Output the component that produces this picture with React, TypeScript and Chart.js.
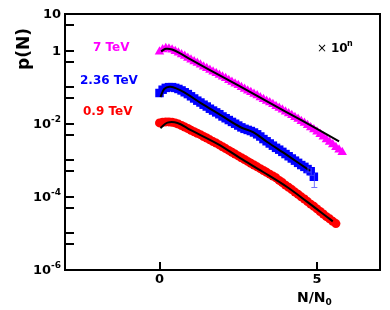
import { useEffect, useRef } from 'react';
import { Chart, registerables } from 'chart.js';

Chart.register(...registerables);

// N/N0 grid of the measured points
const nGrid = [
  0, 0.1, 0.2, 0.3, 0.4, 0.5, 0.6, 0.7, 0.8, 0.9,
  1.0, 1.1, 1.2, 1.3, 1.4, 1.5, 1.6, 1.7, 1.8, 1.9,
  2.0, 2.1, 2.2, 2.3, 2.4, 2.5, 2.6, 2.7, 2.8, 2.9,
  3.0, 3.1, 3.2, 3.3, 3.4, 3.5, 3.6, 3.7, 3.8, 3.9,
  4.0, 4.1, 4.2, 4.3, 4.4, 4.5, 4.6, 4.7, 4.8, 4.9,
  5.0, 5.1, 5.2, 5.3, 5.4, 5.5, 5.6, 5.7, 5.8,
];

// 7 TeV (magenta triangles)
const p7TeV = [
  0.93, 1.07, 1.15, 1.12, 1.05, 0.955, 0.871, 0.776, 0.708, 0.631,
  0.562, 0.501, 0.457, 0.407, 0.363, 0.331, 0.295, 0.263, 0.240, 0.214,
  0.191, 0.174, 0.155, 0.138, 0.123, 0.112, 0.100, 0.0891, 0.0794, 0.0724,
  0.0646, 0.0589, 0.0525, 0.0468, 0.0417, 0.0380, 0.0339, 0.0302, 0.0269, 0.0240,
  0.0214, 0.0191, 0.0170, 0.0151, 0.0135, 0.0117, 0.0105, 0.00912, 0.00794, 0.00692,
  0.00603, 0.00513, 0.00437, 0.00372, 0.00316, 0.00269, 0.00229, 0.00195, 0.00166,
];

// 2.36 TeV (blue squares)
const p236TeV = [
  0.0692, 0.0851, 0.0955, 0.100, 0.100, 0.0955, 0.0891, 0.0813, 0.0724, 0.0646,
  0.0562, 0.0490, 0.0427, 0.0380, 0.0331, 0.0295, 0.0257, 0.0229, 0.0204, 0.0182,
  0.0158, 0.0141, 0.0126, 0.0112, 0.0100, 0.00891, 0.00794, 0.00724, 0.00676, 0.00631,
  0.00575, 0.00513, 0.00447, 0.00380, 0.00331, 0.00288, 0.00251, 0.00219, 0.00195, 0.00170,
  0.00148, 0.00129, 0.00112, 0.000977, 0.000851, 0.000741, 0.000661, 0.000575, 0.000501, 0.000355,
];

// 0.9 TeV (red circles)
const p09TeV = [
  0.0105, 0.0110, 0.0112, 0.0112, 0.0110, 0.0105, 0.00977, 0.00891, 0.00813, 0.00741,
  0.00661, 0.00603, 0.00550, 0.00501, 0.00447, 0.00407, 0.00363, 0.00324, 0.00295, 0.00263,
  0.00234, 0.00209, 0.00186, 0.00166, 0.00148, 0.00132, 0.00117, 0.00105, 0.000933, 0.000832,
  0.000741, 0.000661, 0.000589, 0.000525, 0.000468, 0.000417, 0.000372, 0.000331, 0.000282, 0.000245,
  0.000209, 0.000182, 0.000158, 0.000135, 0.000117, 0.000100, 0.0000871, 0.0000741, 0.0000631, 0.0000550,
  0.0000468, 0.0000398, 0.0000339, 0.0000288, 0.0000251, 0.0000214, 0.0000186,
];

// error bars on the last 2.36 TeV points
const blueErrN = [4.7, 4.8, 4.9];
const blueErrLow = [0.00049, 0.00040, 0.000186];
const blueErrHigh = [0.00067, 0.00062, 0.00045];

// black fit curves
const fit7N = [0.05, 0.2, 0.4, 0.7, 1.0, 2.0, 3.0, 4.0, 5.0, 5.7];
const fit7P = [0.955, 1.12, 1.07, 0.794, 0.562, 0.191, 0.0646, 0.0214, 0.00724, 0.00331];
const fit236N = [0.03, 0.15, 0.35, 0.76, 1.3, 1.93, 2.56, 2.97, 3.42, 4.05, 4.78];
const fit236P = [0.0537, 0.0891, 0.102, 0.0741, 0.0372, 0.0174, 0.00813, 0.00589, 0.00316, 0.00138, 0.000513];
const fit09N = [0.03, 0.25, 0.57, 0.98, 1.84, 2.56, 3.29, 4.05, 4.68, 5.32, 5.5];
const fit09P = [0.00759, 0.0107, 0.0105, 0.00676, 0.00282, 0.00115, 0.000479, 0.000186, 0.0000741, 0.0000282, 0.0000214];

const seriesLabels = ['7 TeV', '2.36 TeV', '0.9 TeV'];
const seriesColors = ['#ff00ff', '#0000ff', '#ff0000'];

const yTickValues = [10, 5, 1, 0.5, 0.1, 0.05, 0.01, 0.005, 0.001, 0.0005, 0.0001, 0.00005, 0.00001, 0.000005, 0.000001];
const yLabelValues = [10, 1, 0.01, 0.0001, 0.000001];
const yLabelBase = ['10', '1', '10', '10', '10'];
const yLabelExp = ['', '', '-2', '-4', '-6'];
const xTickValues = [0, 5];
const xTickLabels = ['0', '5'];

const FONT = '"DejaVu Sans", "Liberation Sans", Arial, sans-serif';

const pts = (xs: number[], ys: number[]) => ys.map((v, i) => ({ x: xs[i], y: v }));

const overlay = {
  id: 'overlay',
  afterDatasetsDraw(chart: any) {
    const { ctx, scales } = chart;
    const x = scales.x;
    const y = scales.y;
    ctx.save();
    ctx.strokeStyle = 'rgba(80,80,255,0.8)';
    ctx.lineWidth = 1;
    blueErrN.forEach((n, i) => {
      const px = x.getPixelForValue(n);
      const lo = y.getPixelForValue(blueErrLow[i]);
      const hi = y.getPixelForValue(blueErrHigh[i]);
      ctx.beginPath();
      ctx.moveTo(px + 0.5, lo);
      ctx.lineTo(px + 0.5, hi);
      ctx.moveTo(px - 2.5, lo + 0.5);
      ctx.lineTo(px + 3.5, lo + 0.5);
      ctx.stroke();
    });
    ctx.restore();
  },
  afterDraw(chart: any) {
    const { ctx, chartArea: a, scales } = chart;
    const x = scales.x;
    const y = scales.y;
    ctx.save();
    // frame
    ctx.strokeStyle = '#000';
    ctx.lineWidth = 2;
    ctx.strokeRect(a.left, a.top, a.right - a.left, a.bottom - a.top);
    // y ticks (inside)
    ctx.beginPath();
    yTickValues.forEach((v) => {
      const py = Math.round(y.getPixelForValue(v));
      ctx.moveTo(a.left, py);
      ctx.lineTo(a.left + 9, py);
    });
    // x ticks (inside)
    xTickValues.forEach((v) => {
      const px = Math.round(x.getPixelForValue(v));
      ctx.moveTo(px, a.bottom);
      ctx.lineTo(px, a.bottom - 8);
    });
    ctx.stroke();

    ctx.fillStyle = '#000';
    // y labels
    const rightX = a.left - 4;
    yLabelValues.forEach((v, i) => {
      const py = y.getPixelForValue(v) + 1;
      ctx.font = `bold 9px ${FONT}`;
      const ew = yLabelExp[i] ? ctx.measureText(yLabelExp[i]).width : 0;
      if (yLabelExp[i]) {
        ctx.textAlign = 'left';
        ctx.textBaseline = 'middle';
        ctx.fillText(yLabelExp[i], rightX - ew, py - 5);
      }
      ctx.font = `bold 13px ${FONT}`;
      ctx.textAlign = 'right';
      ctx.textBaseline = 'middle';
      ctx.fillText(yLabelBase[i], rightX - ew, py);
    });
    // x labels
    ctx.font = `bold 13px ${FONT}`;
    ctx.textAlign = 'center';
    ctx.textBaseline = 'middle';
    xTickValues.forEach((v, i) => {
      ctx.fillText(xTickLabels[i], x.getPixelForValue(v), a.bottom + 10);
    });
    // x title N/N0
    ctx.font = `bold 14px ${FONT}`;
    ctx.textAlign = 'left';
    ctx.textBaseline = 'alphabetic';
    const tx = 297;
    ctx.fillText('N/N', tx, 302);
    const tw = ctx.measureText('N/N').width;
    ctx.font = `bold 9px ${FONT}`;
    ctx.fillText('0', tx + tw, 305);
    // y title p(N)
    ctx.save();
    ctx.translate(25, 49);
    ctx.rotate(-Math.PI / 2);
    ctx.font = `bold 17px ${FONT}`;
    ctx.textAlign = 'center';
    ctx.textBaseline = 'middle';
    ctx.fillText('p(N)', 0, 0);
    ctx.restore();
    // series labels
    const labelPos = [
      [93, 48],
      [80, 81],
      [83, 112],
    ];
    ctx.font = `bold 12px ${FONT}`;
    ctx.textAlign = 'left';
    ctx.textBaseline = 'middle';
    seriesLabels.forEach((s, i) => {
      ctx.fillStyle = seriesColors[i];
      ctx.fillText(s, labelPos[i][0], labelPos[i][1]);
    });
    // x 10^n
    ctx.fillStyle = '#000';
    ctx.font = `12px ${FONT}`;
    ctx.fillText('\u00d7', 317, 49);
    ctx.font = `bold 12px ${FONT}`;
    ctx.fillText('10', 331, 49);
    ctx.font = `bold 8px ${FONT}`;
    ctx.fillText('n', 347, 44);
    ctx.restore();
  },
};

export default function App() {
  const ref = useRef<HTMLCanvasElement | null>(null);
  useEffect(() => {
    if (!ref.current) return;
    const fitStyle = {
      borderColor: '#000',
      borderWidth: 2,
      pointRadius: 0,
      showLine: true,
      tension: 0.35,
      fill: false,
      order: 0,
    };
    const chart = new Chart(ref.current, {
      type: 'scatter',
      data: {
        datasets: [
          { ...fitStyle, label: 'fit 7', data: pts(fit7N, fit7P) },
          { ...fitStyle, label: 'fit 2.36', data: pts(fit236N, fit236P) },
          { ...fitStyle, label: 'fit 0.9', data: pts(fit09N, fit09P) },
          {
            label: seriesLabels[0],
            data: pts(nGrid, p7TeV),
            pointStyle: 'triangle',
            pointRadius: 5.5,
            backgroundColor: seriesColors[0],
            borderColor: seriesColors[0],
            borderWidth: 0,
            order: 1,
          },
          {
            label: seriesLabels[1],
            data: pts(nGrid, p236TeV),
            pointStyle: 'rect',
            pointRadius: 6,
            backgroundColor: seriesColors[1],
            borderColor: seriesColors[1],
            borderWidth: 0,
            order: 1,
          },
          {
            label: seriesLabels[2],
            data: pts(nGrid, p09TeV),
            pointStyle: 'circle',
            pointRadius: 4.5,
            backgroundColor: seriesColors[2],
            borderColor: seriesColors[2],
            borderWidth: 0,
            order: 1,
          },
        ],
      },
      options: {
        responsive: false,
        animation: false,
        layout: { padding: { left: 65, top: 14, right: 10, bottom: 40 } },
        plugins: { legend: { display: false }, tooltip: { enabled: false } },
        scales: {
          x: { type: 'linear', min: -3, max: 7, display: false },
          y: { type: 'logarithmic', min: 0.000001, max: 10, display: false },
        },
      },
      plugins: [overlay],
    });
    return () => chart.destroy();
  }, []);
  return (
    <div style={{ position: 'fixed', left: 0, top: 0, width: 390, height: 310, background: '#fff' }}>
      <canvas ref={ref} width={390} height={310} style={{ display: 'block' }} />
    </div>
  );
}
